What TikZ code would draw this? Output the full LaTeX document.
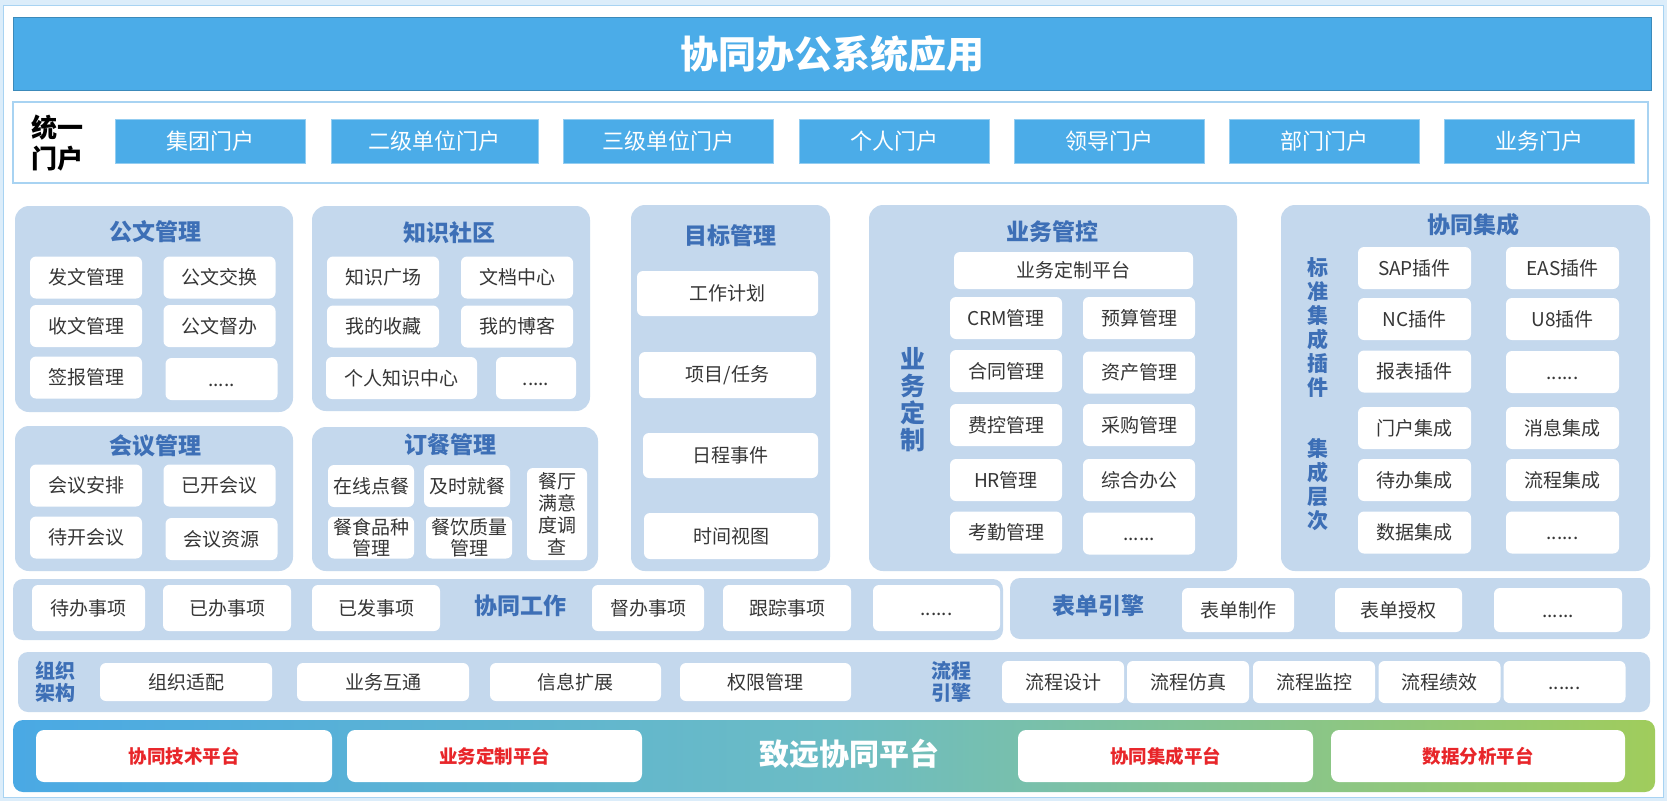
\documentclass[tikz,border=0pt]{standalone}
\usepackage{fontspec}
\setmainfont{Noto Sans CJK SC}
\usepackage{tikz}
\definecolor{panelblue}{HTML}{C4D8ED}
\definecolor{headblue}{HTML}{3D6FB6}
\definecolor{barblue}{HTML}{4BACE8}
\definecolor{textgray}{HTML}{363636}
\definecolor{platred}{HTML}{E8262A}
\definecolor{frameblue}{HTML}{A8D3F2}
\definecolor{baseleft}{HTML}{4AA9E4}
\definecolor{basemid}{HTML}{6CBCC4}
\definecolor{baseright}{HTML}{A0CC5C}
\newcommand{\pxfont}[1]{\fontsize{#1}{#1}\selectfont}
\newcommand{\moredots}[1]{\vphantom{管}#1}
\tikzstyle{Panel}=[rectangle, rounded corners=14, fill=panelblue, inner sep=0]
\tikzstyle{Item}=[rectangle, rounded corners=6, fill=white, minimum width=112, minimum height=42, inner sep=0, text=textgray, font=\pxfont{19}, align=center]
\tikzstyle{Head}=[text=headblue, font=\pxfont{23}\bfseries, inner sep=0]
\tikzstyle{Portal}=[rectangle, fill=barblue, draw=barblue!60!white, minimum width=190, minimum height=44, inner sep=0, text=white, font=\pxfont{22}]
\tikzstyle{Plat}=[rectangle, rounded corners=8, fill=white, minimum width=296, minimum height=52, inner sep=0, text=platred, font=\pxfont{18.5}\bfseries]

\begin{document}
\begin{tikzpicture}[x=1pt, y=-1pt]
    \useasboundingbox (0,0) rectangle (1667,801);
    \fill[frameblue!40] (0,0) rectangle (1667,801);
    \draw[fill=white, draw=frameblue] (3.5,5) rectangle (1663.5,797);

    \path
    (832,53.5) node[rectangle, fill=barblue, draw=barblue!80!black, minimum width=1638, minimum height=73, inner sep=0, text=white, font=\pxfont{38}\bfseries] (title) {协同办公系统应用}
    (830.5,142.5) node[rectangle, draw=frameblue, line width=2, fill=white, minimum width=1635, minimum height=81, inner sep=0] (portal) {}
    (57,143) node[align=center, font=\fontsize{26}{31}\selectfont\bfseries] (unify) {统一\\门户};

    \path
    (210,141) node[Portal] (jt) {集团门户}
    (434.5,141) node[Portal, minimum width=207] (ej) {二级单位门户}
    (668,141) node[Portal, minimum width=210] (sj) {三级单位门户}
    (894,141) node[Portal] (gr) {个人门户}
    (1109,141) node[Portal] (ld) {领导门户}
    (1324,141) node[Portal] (bm) {部门门户}
    (1539,141) node[Portal] (yw) {业务门户};

    \path
    (154,309) node[Panel, minimum width=278, minimum height=206] (gwp) {}
    (451,308.5) node[Panel, minimum width=278, minimum height=205] (zsp) {}
    (154,498.5) node[Panel, minimum width=278, minimum height=145] (hyp) {}
    (455,499) node[Panel, minimum width=286, minimum height=144] (dcp) {}
    (730.5,388) node[Panel, minimum width=199, minimum height=366] (mbp) {}
    (1053,388) node[Panel, minimum width=368, minimum height=366] (ywp) {}
    (1465.5,388) node[Panel, minimum width=369, minimum height=366] (xtp) {};

    \path
    (155,232) node[Head] (gwh) {公文管理}
    (449,233) node[Head] (zsh) {知识社区}
    (155,446) node[Head] (hyh) {会议管理}
    (450,445) node[Head] (dch) {订餐管理}
    (730,236) node[Head] (mbh) {目标管理}
    (1052,232) node[Head] (ywh) {业务管控}
    (1473,225) node[Head] (xth) {协同集成};

    % 公文管理, 知识社区
    \path
    (86,277.5) node[Item] (fw) {发文管理}
    (219.5,277.5) node[Item] (jh) {公文交换}
    (86,326) node[Item] (sw) {收文管理}
    (219.5,326) node[Item] (db) {公文督办}
    (86,377.5) node[Item] (qb) {签报管理}
    (221.5,379) node[Item] (gwmore) {\moredots{.....}}
    (383,277.5) node[Item] (gc) {知识广场}
    (517,277.5) node[Item] (wd) {文档中心}
    (383,326.5) node[Item] (sc) {我的收藏}
    (517,326.5) node[Item] (bk) {我的博客}
    (401.5,378) node[Item, minimum width=151] (grzs) {个人知识中心}
    (536,378) node[Item, minimum width=80] (zsmore) {\moredots{.....}};

    % 会议管理, 订餐管理
    \path
    (86,485.5) node[Item] (hyap) {会议安排}
    (219.5,485.5) node[Item] (ykhy) {已开会议}
    (86,537.5) node[Item] (dkhy) {待开会议}
    (221.5,539) node[Item] (hyzy) {会议资源}
    (371,486) node[Item, minimum width=86] (zxdc) {在线点餐}
    (467,486) node[Item, minimum width=86] (jsjc) {及时就餐}
    (371,537.5) node[Item, minimum width=86, font=\fontsize{19}{21}\selectfont] (cspz) {餐食品种\\管理}
    (469,537.5) node[Item, minimum width=86, font=\fontsize{19}{21}\selectfont] (cyzl) {餐饮质量\\管理}
    (557,514) node[Item, minimum width=60, minimum height=92, font=\fontsize{19}{22}\selectfont] (ctmy) {餐厅\\满意\\度调\\查};

    % 目标管理
    \path
    (727.5,293.5) node[Item, minimum width=181, minimum height=45] (gzjh) {工作计划}
    (727.5,375) node[Item, minimum width=177, minimum height=46] (xmrw) {项目/任务}
    (730.5,455.5) node[Item, minimum width=175, minimum height=45] (rcsj) {日程事件}
    (731,536) node[Item, minimum width=174, minimum height=46] (sjst) {时间视图};

    % 业务管控
    \path
    (913,400) node[Head, align=center, font=\fontsize{25}{27}\selectfont\bfseries] (ywdz) {业\\务\\定\\制}
    (1073.5,270.5) node[Item, minimum width=239, minimum height=37] (dzpt) {业务定制平台}
    (1006,318) node[Item] (crm) {CRM管理}
    (1139,318) node[Item] (ys) {预算管理}
    (1006,371) node[Item] (ht) {合同管理}
    (1139,372.5) node[Item] (zc) {资产管理}
    (1006,425) node[Item] (fk) {费控管理}
    (1139,425) node[Item] (cg) {采购管理}
    (1006,480) node[Item] (hr) {HR管理}
    (1139,480) node[Item] (zhbg) {综合办公}
    (1006,532.5) node[Item] (kq) {考勤管理}
    (1139,533.5) node[Item] (ywmore) {\moredots{......}};

    % 协同集成
    \path
    (1318,327.5) node[Head, align=center, font=\fontsize{21}{24}\selectfont\bfseries] (bzcj) {标\\准\\集\\成\\插\\件}
    (1318,485) node[Head, align=center, font=\fontsize{21}{24}\selectfont\bfseries] (jccc) {集\\成\\层\\次}
    (1414.5,268) node[Item, minimum width=113] (sap) {SAP插件}
    (1562.5,268) node[Item, minimum width=113] (eas) {EAS插件}
    (1414.5,319) node[Item, minimum width=113] (nc) {NC插件}
    (1562.5,319) node[Item, minimum width=113] (u8) {U8插件}
    (1414.5,371.5) node[Item, minimum width=113] (bb) {报表插件}
    (1562.5,372) node[Item, minimum width=113] (cjmore) {\moredots{......}}
    (1414.5,428) node[Item, minimum width=113] (mhjc) {门户集成}
    (1562.5,428) node[Item, minimum width=113] (xxjc) {消息集成}
    (1414.5,480) node[Item, minimum width=113] (dbjc) {待办集成}
    (1562.5,480) node[Item, minimum width=113] (lcjc) {流程集成}
    (1414.5,532.5) node[Item, minimum width=113] (sjjc) {数据集成}
    (1562.5,532.5) node[Item, minimum width=113] (jcmore) {\moredots{......}};

    % 协同工作, 表单引擎
    \path
    (508,609.5) node[Panel, rounded corners=10, minimum width=990, minimum height=61] (xtgz) {}
    (1330,608.5) node[Panel, rounded corners=10, minimum width=640, minimum height=61] (bdyq) {}
    (520,606) node[Head] (xtgzh) {协同工作}
    (1098,606) node[Head] (bdyqh) {表单引擎}
    (88.5,608) node[Item, minimum width=113, minimum height=46] (dbsx) {待办事项}
    (227,608) node[Item, minimum width=128, minimum height=46] (ybsx) {已办事项}
    (376,608) node[Item, minimum width=128, minimum height=46] (yfsx) {已发事项}
    (648,608) node[Item, minimum width=112, minimum height=46] (dbsx2) {督办事项}
    (787,608) node[Item, minimum width=128, minimum height=46] (gzsx) {跟踪事项}
    (936.5,608) node[Item, minimum width=127, minimum height=46] (gzmore) {\moredots{......}}
    (1238,610) node[Item, minimum width=112, minimum height=44] (bdzz) {表单制作}
    (1398.5,610) node[Item, minimum width=127, minimum height=44] (bdsq) {表单授权}
    (1558,610) node[Item, minimum width=128, minimum height=44] (bdmore) {\moredots{......}};

    % 组织架构, 流程引擎
    \path
    (834,682) node[Panel, rounded corners=10, minimum width=1632, minimum height=60] (zzjg) {}
    (55,682) node[Head, align=center, font=\fontsize{20}{22}\selectfont\bfseries] (zzjgh) {组织\\架构}
    (951,682) node[Head, align=center, font=\fontsize{20}{22}\selectfont\bfseries] (lcyqh) {流程\\引擎}
    (186,682) node[Item, minimum width=172, minimum height=38] (zzsp) {组织适配}
    (383,682) node[Item, minimum width=172, minimum height=38] (ywht) {业务互通}
    (575.5,682) node[Item, minimum width=171, minimum height=38] (xxkz) {信息扩展}
    (765.5,682) node[Item, minimum width=171, minimum height=38] (qxgl) {权限管理}
    (1063,682) node[Item, minimum width=122] (lcsj) {流程设计}
    (1188,682) node[Item, minimum width=122] (lcfz) {流程仿真}
    (1314,682) node[Item, minimum width=122] (lcjk) {流程监控}
    (1439.5,682) node[Item, minimum width=122] (lcjx) {流程绩效}
    (1564.5,682) node[Item, minimum width=122] (lcmore) {\moredots{......}};

    % 致远协同平台
    \path
    (834,756) node[rectangle, rounded corners=10, left color=baseleft, right color=baseright, middle color=basemid, minimum width=1642, minimum height=72, inner sep=0] (base) {}
    (849,754) node[text=white, font=\pxfont{30}\bfseries] (baseh) {致远协同平台}
    (184,756) node[Plat] (jspt) {协同技术平台}
    (494.5,756) node[Plat, minimum width=295] (dzpt2) {业务定制平台}
    (1165.5,756) node[Plat, minimum width=295] (jcpt) {协同集成平台}
    (1478,756) node[Plat, minimum width=294] (fxpt) {数据分析平台};
\end{tikzpicture}
\end{document}
